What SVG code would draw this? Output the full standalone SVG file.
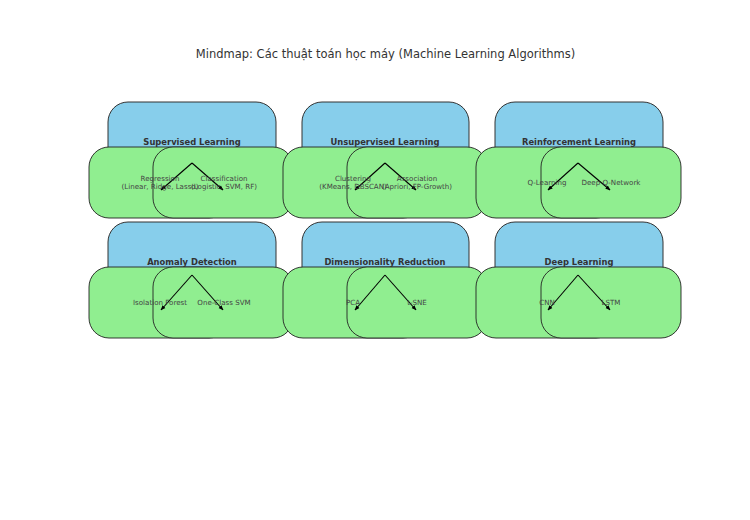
<svg xmlns="http://www.w3.org/2000/svg" width="750" height="520" viewBox="0 0 750 520">
<style>
.bg{fill:#ffffff}
.cat{fill:#87CEEB;stroke:#333;stroke-width:1}
.leaf{fill:#90EE90;stroke:#222;stroke-width:0.9}
.ct{font-family:"DejaVu Sans",sans-serif;font-size:8.4px;font-weight:bold;fill:#333;text-anchor:middle}
.lt{font-family:"DejaVu Sans",sans-serif;font-size:7.1px;fill:#444;text-anchor:middle}
.title{font-family:"DejaVu Sans",sans-serif;font-size:11.5px;fill:#333;text-anchor:middle}
.arr{stroke:#000;stroke-width:1.1;fill:none;marker-end:url(#ah)}
</style>
<defs>
<marker id="ah" viewBox="0 0 10 10" refX="9" refY="5" markerWidth="5" markerHeight="5" markerUnits="userSpaceOnUse" orient="auto">
<path d="M0,1 L10,5 L0,9 z" fill="#000"/>
</marker>
</defs>
<rect class="bg" x="0" y="0" width="750" height="520"/>
<text class="title" x="385.5" y="58">Mindmap: Các thuật toán học máy (Machine Learning Algorithms)</text>

<g id="boxes-cat">
<g id="n-supervised"><rect class="cat" x="108" y="102" width="168" height="80" rx="20"/></g>
<g id="n-unsupervised"><rect class="cat" x="302" y="102" width="167" height="80" rx="20"/></g>
<g id="n-reinforcement"><rect class="cat" x="495" y="102" width="168" height="80" rx="20"/></g>
<g id="n-anomaly"><rect class="cat" x="108" y="222" width="168" height="80" rx="20"/></g>
<g id="n-dimred"><rect class="cat" x="302" y="222" width="167" height="80" rx="20"/></g>
<g id="n-deep"><rect class="cat" x="495" y="222" width="168" height="80" rx="20"/></g>
</g>

<g id="boxes-leaf">
<g id="n-regression"><rect class="leaf" x="89" y="147" width="140" height="71" rx="20"/></g>
<g id="n-classification"><rect class="leaf" x="153" y="147" width="140" height="71" rx="20"/></g>
<g id="n-clustering"><rect class="leaf" x="283" y="147" width="140" height="71" rx="20"/></g>
<g id="n-association"><rect class="leaf" x="347" y="147" width="140" height="71" rx="20"/></g>
<g id="n-qlearning"><rect class="leaf" x="476" y="147" width="140" height="71" rx="20"/></g>
<g id="n-dqn"><rect class="leaf" x="541" y="147" width="140" height="71" rx="20"/></g>
<g id="n-iforest"><rect class="leaf" x="89" y="267" width="140" height="71" rx="20"/></g>
<g id="n-ocsvm"><rect class="leaf" x="153" y="267" width="140" height="71" rx="20"/></g>
<g id="n-pca"><rect class="leaf" x="283" y="267" width="140" height="71" rx="20"/></g>
<g id="n-tsne"><rect class="leaf" x="347" y="267" width="140" height="71" rx="20"/></g>
<g id="n-cnn"><rect class="leaf" x="476" y="267" width="140" height="71" rx="20"/></g>
<g id="n-lstm"><rect class="leaf" x="541" y="267" width="140" height="71" rx="20"/></g>
</g>

<g id="connectors">
<line class="arr" x1="192" y1="163" x2="161" y2="190"/>
<line class="arr" x1="192" y1="163" x2="223" y2="190"/>
<line class="arr" x1="385" y1="163" x2="355" y2="190"/>
<line class="arr" x1="385" y1="163" x2="416" y2="190"/>
<line class="arr" x1="578" y1="163" x2="548" y2="190"/>
<line class="arr" x1="578" y1="163" x2="610" y2="190"/>
<line class="arr" x1="192" y1="275" x2="161" y2="310"/>
<line class="arr" x1="192" y1="275" x2="223" y2="310"/>
<line class="arr" x1="385" y1="275" x2="355" y2="310"/>
<line class="arr" x1="385" y1="275" x2="416" y2="310"/>
<line class="arr" x1="578" y1="275" x2="548" y2="310"/>
<line class="arr" x1="578" y1="275" x2="610" y2="310"/>
</g>

<g id="labels">
<text class="ct" x="192" y="145">Supervised Learning</text>
<text class="ct" x="385" y="145">Unsupervised Learning</text>
<text class="ct" x="579" y="145">Reinforcement Learning</text>
<text class="ct" x="192" y="265">Anomaly Detection</text>
<text class="ct" x="385" y="265">Dimensionality Reduction</text>
<text class="ct" x="579" y="265">Deep Learning</text>

<text class="lt" x="160" y="180.5">Regression</text>
<text class="lt" x="160" y="188.5">(Linear, Ridge, Lasso)</text>
<text class="lt" x="224" y="180.5">Classification</text>
<text class="lt" x="224" y="188.5">(Logistic, SVM, RF)</text>
<text class="lt" x="353" y="180.5">Clustering</text>
<text class="lt" x="353" y="188.5">(KMeans, DBSCAN)</text>
<text class="lt" x="417" y="180.5">Association</text>
<text class="lt" x="417" y="188.5">(Apriori, FP-Growth)</text>
<text class="lt" x="547" y="184.5">Q-Learning</text>
<text class="lt" x="611" y="184.5">Deep Q-Network</text>
<text class="lt" x="160" y="304.5">Isolation Forest</text>
<text class="lt" x="224" y="304.5">One-Class SVM</text>
<text class="lt" x="353" y="304.5">PCA</text>
<text class="lt" x="417" y="304.5">t-SNE</text>
<text class="lt" x="547" y="304.5">CNN</text>
<text class="lt" x="611" y="304.5">LSTM</text>
</g>
</svg>
